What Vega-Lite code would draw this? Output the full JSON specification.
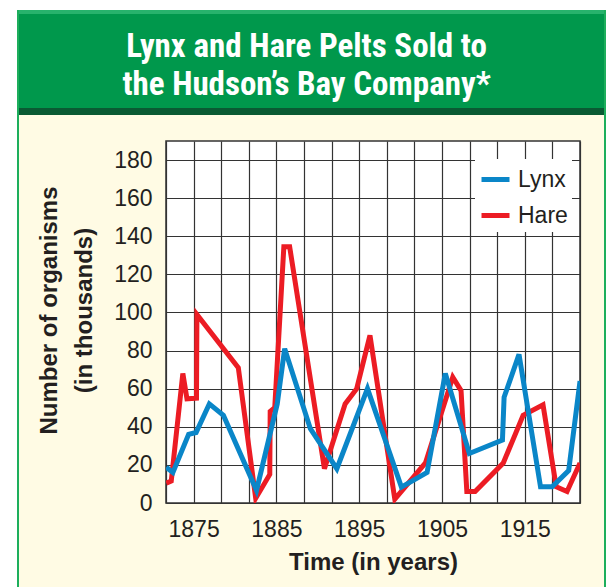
{
  "$schema": "https://vega.github.io/schema/vega-lite/v6.json",
  "background": "#FFFBE4",
  "padding": 0,
  "spacing": 0,
  "config": {
    "view": {"stroke": null},
    "font": "Liberation Sans"
  },
  "resolve": {"scale": {"color": "independent"}, "legend": {"color": "independent"}},
  "vconcat": [
    {"width": 608, "height": 10, "view": {"fill": "white", "stroke": null}, "data": {"values": []}, "mark": "point"},
    {
      "spacing": 0,
      "resolve": {"scale": {"color": "independent"}, "legend": {"color": "independent"}},
      "hconcat": [
        {"width": 17, "height": 577, "view": {"fill": "white", "stroke": null}, "data": {"values": []}, "mark": "point"},
        {"width": 2, "height": 577, "view": {"fill": "#1DAE5C", "stroke": null}, "data": {"values": []}, "mark": "point"},
        {
          "spacing": 25,
          "resolve": {"scale": {"color": "independent"}, "legend": {"color": "independent"}},
          "vconcat": [
            {
              "spacing": 0,
              "vconcat": [
                {"width": 585, "height": 4, "view": {"fill": "#27B36C", "stroke": null}, "data": {"values": []}, "mark": "point"},
                {
                  "width": 585, "height": 94,
                  "view": {"fill": "#00984C", "stroke": null},
                  "data": {"values": [
                    {"i": 0, "line": "Lynx and Hare Pelts Sold to"},
                    {"i": 1, "line": "the Hudson\u2019s Bay Company*"}
                  ]},
                  "mark": {
                    "type": "text",
                    "font": "Roboto Condensed, Roboto",
                    "fontSize": 33,
                    "fontWeight": "bold",
                    "color": "white",
                    "baseline": "alphabetic",
                    "align": "center",
                    "dy": 15,
                    "dx": -5
                  },
                  "encoding": {
                    "y": {"field": "i", "type": "ordinal", "axis": null, "scale": {"type": "point", "padding": 0.737}},
                    "text": {"field": "line"}
                  }
                },
                {"width": 585, "height": 7, "view": {"fill": "#0A5A33", "stroke": null}, "data": {"values": []}, "mark": "point"}
              ]
            },
            {
              "spacing": 0,
              "resolve": {"scale": {"color": "independent"}, "legend": {"color": "independent"}},
              "hconcat": [
                {"width": 17, "height": 1, "data": {"values": []}, "mark": "point"},
                {
                  "width": 414,
                  "height": 362,
                  "view": {"fill": "white", "stroke": "#333333", "strokeWidth": 1.5},
                  "data": {
                    "values": [
                      {"species": "Hare", "year": 1871.7, "value": 10.4},
                      {"species": "Hare", "year": 1872.3, "value": 11.5},
                      {"species": "Hare", "year": 1873.7, "value": 68},
                      {"species": "Hare", "year": 1874.2, "value": 54.7},
                      {"species": "Hare", "year": 1875.35, "value": 55},
                      {"species": "Hare", "year": 1875.4, "value": 99},
                      {"species": "Hare", "year": 1880.4, "value": 71},
                      {"species": "Hare", "year": 1882.5, "value": 2.5},
                      {"species": "Hare", "year": 1884.2, "value": 15},
                      {"species": "Hare", "year": 1884.25, "value": 48},
                      {"species": "Hare", "year": 1884.8, "value": 50},
                      {"species": "Hare", "year": 1885.9, "value": 134.5},
                      {"species": "Hare", "year": 1886.6, "value": 134.5},
                      {"species": "Hare", "year": 1890.8, "value": 18},
                      {"species": "Hare", "year": 1893.3, "value": 52},
                      {"species": "Hare", "year": 1894.7, "value": 60},
                      {"species": "Hare", "year": 1896.3, "value": 88},
                      {"species": "Hare", "year": 1899.3, "value": 2},
                      {"species": "Hare", "year": 1903.0, "value": 21},
                      {"species": "Hare", "year": 1906.3, "value": 66},
                      {"species": "Hare", "year": 1907.3, "value": 59},
                      {"species": "Hare", "year": 1908.0, "value": 6},
                      {"species": "Hare", "year": 1909.0, "value": 6},
                      {"species": "Hare", "year": 1912.4, "value": 21},
                      {"species": "Hare", "year": 1914.8, "value": 46},
                      {"species": "Hare", "year": 1917.2, "value": 51.5},
                      {"species": "Hare", "year": 1918.8, "value": 8.5},
                      {"species": "Hare", "year": 1920.1, "value": 6},
                      {"species": "Hare", "year": 1921.67, "value": 21},
                      {"species": "Lynx", "year": 1871.7, "value": 18.8},
                      {"species": "Lynx", "year": 1872.5, "value": 16},
                      {"species": "Lynx", "year": 1874.4, "value": 36},
                      {"species": "Lynx", "year": 1875.3, "value": 37},
                      {"species": "Lynx", "year": 1876.9, "value": 52},
                      {"species": "Lynx", "year": 1878.6, "value": 46},
                      {"species": "Lynx", "year": 1882.6, "value": 6.6},
                      {"species": "Lynx", "year": 1885.1, "value": 52},
                      {"species": "Lynx", "year": 1886.0, "value": 81},
                      {"species": "Lynx", "year": 1889.1, "value": 39},
                      {"species": "Lynx", "year": 1892.3, "value": 18},
                      {"species": "Lynx", "year": 1896.0, "value": 60},
                      {"species": "Lynx", "year": 1900.1, "value": 8.3},
                      {"species": "Lynx", "year": 1903.2, "value": 16},
                      {"species": "Lynx", "year": 1905.4, "value": 68},
                      {"species": "Lynx", "year": 1908.3, "value": 26},
                      {"species": "Lynx", "year": 1912.3, "value": 33},
                      {"species": "Lynx", "year": 1912.5, "value": 55.5},
                      {"species": "Lynx", "year": 1914.3, "value": 78},
                      {"species": "Lynx", "year": 1916.9, "value": 8.5},
                      {"species": "Lynx", "year": 1918.3, "value": 8.5},
                      {"species": "Lynx", "year": 1920.3, "value": 17},
                      {"species": "Lynx", "year": 1921.67, "value": 64}
                    ]
                  },
                  "encoding": {
                    "x": {
                      "field": "year", "type": "quantitative",
                      "scale": {"domain": [1871.6667, 1921.6667], "nice": false, "zero": false},
                      "axis": {
                        "values": [1871.6667, 1875, 1878.3333, 1881.6667, 1885, 1888.3333, 1891.6667, 1895, 1898.3333, 1901.6667, 1905, 1908.3333, 1911.6667, 1915, 1918.3333, 1921.6667],
                        "labelExpr": "abs(datum.value - round(datum.value)) < 0.01 && round(datum.value) % 10 == 5 ? '' + round(datum.value) : ''",
                        "labelOverlap": false,
                        "labelFlush": false,
                        "domain": false,
                        "ticks": false,
                        "grid": true,
                        "gridColor": "#333333",
                        "gridWidth": 1.2,
                        "gridOpacity": 1,
                        "labelFont": "Liberation Sans",
                        "labelFontSize": 23,
                        "labelColor": "#231F20",
                        "labelPadding": 15,
                        "title": "Time (in years)",
                        "titleFont": "Liberation Sans",
                        "titleFontSize": 24,
                        "titleFontWeight": "bold",
                        "titleColor": "#231F20",
                        "titleBaseline": "alphabetic",
                        "titleY": 66
                      }
                    },
                    "y": {
                      "field": "value", "type": "quantitative",
                      "scale": {"domain": [0, 190], "nice": false},
                      "axis": {
                        "values": [0, 20, 40, 60, 80, 100, 120, 140, 160, 180],
                        "domain": false,
                        "ticks": false,
                        "grid": true,
                        "gridColor": "#333333",
                        "gridWidth": 1.2,
                        "gridOpacity": 1,
                        "labelFont": "Liberation Sans",
                        "labelFontSize": 23,
                        "labelColor": "#231F20",
                        "labelPadding": 14,
                        "title": ["Number of organisms", "(in thousands)"],
                        "titleFont": "Liberation Sans",
                        "titleFontSize": 24,
                        "titleFontWeight": "bold",
                        "titleColor": "#231F20",
                        "titleAngle": -90,
                        "titleAlign": "center",
                        "titleBaseline": "alphabetic",
                        "titleLineHeight": 35,
                        "titleX": -110,
                        "titleY": 169
                      }
                    },
                    "color": {
                      "field": "species", "type": "nominal",
                      "scale": {"domain": ["Lynx", "Hare"], "range": ["#0A86C8", "#EC1C24"]},
                      "legend": {
                        "title": null,
                        "orient": "none",
                        "legendX": 309,
                        "legendY": 18,
                        "fillColor": "white",
                        "padding": 4,
                        "symbolType": "stroke",
                        "symbolStrokeWidth": 5,
                        "symbolSize": 784,
                        "labelFont": "Liberation Sans",
                        "labelFontSize": 23,
                        "labelColor": "#231F20",
                        "labelOffset": 6,
                        "rowPadding": 7
                      }
                    }
                  },
                  "layer": [
                    {"transform": [{"filter": "datum.species == 'Hare'"}], "mark": {"type": "line", "strokeWidth": 5, "strokeJoin": "miter", "clip": true}},
                    {"transform": [{"filter": "datum.species == 'Lynx'"}], "mark": {"type": "line", "strokeWidth": 5, "strokeJoin": "miter", "clip": true}}
                  ]
                }
              ]
            }
          ]
        },
        {"width": 2, "height": 577, "view": {"fill": "#1DAE5C", "stroke": null}, "data": {"values": []}, "mark": "point"},
        {"width": 2, "height": 577, "view": {"fill": "white", "stroke": null}, "data": {"values": []}, "mark": "point"}
      ]
    }
  ]
}
